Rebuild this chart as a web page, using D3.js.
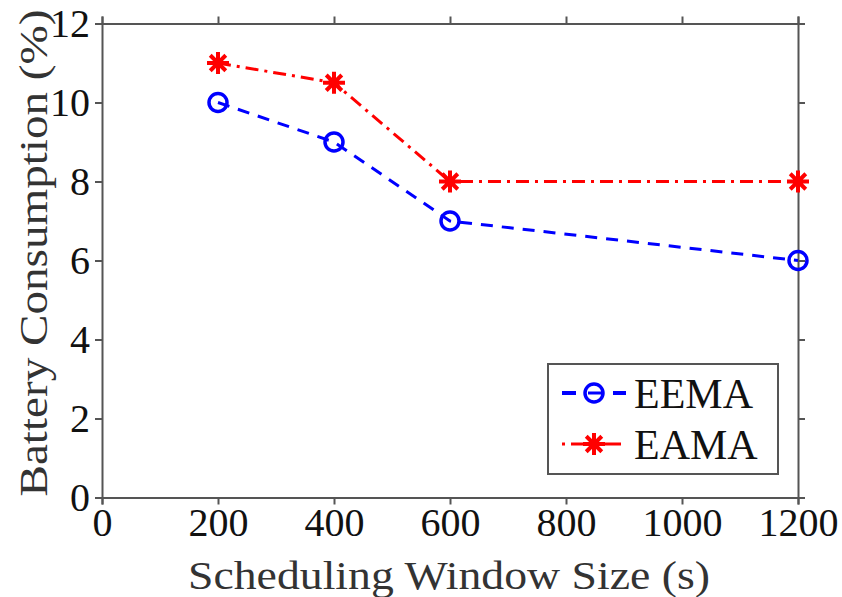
<!DOCTYPE html>
<html><head><meta charset="utf-8">
<script src="https://cdn.jsdelivr.net/npm/d3@7"></script>
<style>body{margin:0;background:#fff}svg{display:block}</style>
</head><body>
<script>
const windowSizes = [200, 400, 600, 1200];
const eemaValues = [10, 9, 7, 6];
const eamaValues = [11, 10.5, 8, 8];
const xTicks = [0, 200, 400, 600, 800, 1000, 1200];
const yTicks = [0, 2, 4, 6, 8, 10, 12];
const seriesNames = ["EEMA", "EAMA"];

const W = 842, H = 597;
const m = {l: 102, r: 44, t: 23.5, b: 99.5};
const svg = d3.select("body").append("svg").attr("width", W).attr("height", H);
const x = d3.scaleLinear().domain([0, 1200]).range([m.l, W - m.r]);
const y = d3.scaleLinear().domain([0, 12]).range([H - m.b, m.t]);
const font = "Liberation Serif";
const axisColor = "#555";

function styleAxis(g){
  g.attr("font-family", null).attr("font-size", null);
  g.select(".domain").attr("stroke", axisColor).attr("stroke-width", 2);
  g.selectAll(".tick line").attr("stroke", axisColor).attr("stroke-width", 2);
  g.selectAll("text").style("font-family", font).style("font-size", "40px").attr("fill", "#111");
}
svg.append("g").attr("transform", `translate(0,${y(0)})`)
  .call(d3.axisBottom(x).tickValues(xTicks).tickFormat(d3.format("d")).tickSize(7).tickSizeOuter(7).tickPadding(3))
  .call(styleAxis);
svg.append("g").attr("transform", `translate(0,${y(12)})`)
  .call(d3.axisTop(x).tickValues(xTicks).tickSize(7).tickSizeOuter(7).tickFormat(""))
  .call(styleAxis);
svg.append("g").attr("transform", `translate(${x(0)},0)`)
  .call(d3.axisLeft(y).tickValues(yTicks).tickFormat(d3.format("d")).tickSize(7).tickSizeOuter(7).tickPadding(5))
  .call(styleAxis);
svg.append("g").attr("transform", `translate(${x(1200)},0)`)
  .call(d3.axisRight(y).tickValues(yTicks).tickSize(7).tickSizeOuter(7).tickFormat(""))
  .call(styleAxis);

const line = d3.line().x(d => x(d[0])).y(d => y(d[1]));
const eema = windowSizes.map((s, i) => [s, eemaValues[i]]);
const eama = windowSizes.map((s, i) => [s, eamaValues[i]]);
const blue = "#0000ff", red = "#ff0000";
const dashBlue = "12,9", dashRed = "13,6,3,6";

svg.append("path").datum(eama).attr("d", line).attr("fill", "none")
  .attr("stroke", red).attr("stroke-width", 3).attr("stroke-dasharray", dashRed);
svg.append("path").datum(eema).attr("d", line).attr("fill", "none")
  .attr("stroke", blue).attr("stroke-width", 3).attr("stroke-dasharray", dashBlue);

function star(g, cx, cy){
  const r = 11;
  const p = d3.path();
  for (let k = 0; k < 4; k++){
    const a = k * Math.PI / 4;
    p.moveTo(cx - r*Math.cos(a), cy - r*Math.sin(a));
    p.lineTo(cx + r*Math.cos(a), cy + r*Math.sin(a));
  }
  g.append("path").attr("d", p.toString()).attr("stroke", red).attr("stroke-width", 4).attr("fill", "none");
  g.append("circle").attr("cx", cx).attr("cy", cy).attr("r", 5).attr("fill", red);
}
eama.forEach(d => star(svg, x(d[0]), y(d[1])));
svg.selectAll("circle.eema").data(eema).join("circle").attr("class", "eema")
  .attr("cx", d => x(d[0])).attr("cy", d => y(d[1])).attr("r", 9)
  .attr("fill", "none").attr("stroke", blue).attr("stroke-width", 3.5);

// legend
const lg = svg.append("g");
lg.append("rect").attr("x", 548).attr("y", 364).attr("width", 230).attr("height", 110)
  .attr("fill", "#fff").attr("stroke", axisColor).attr("stroke-width", 2);
const rows = [{y: 393}, {y: 444}];
rows.forEach((r, i) => {
  if (i === 0){
    lg.append("line").attr("x1", 562).attr("x2", 576).attr("y1", r.y).attr("y2", r.y).attr("stroke", blue).attr("stroke-width", 4);
    lg.append("line").attr("x1", 588).attr("x2", 602).attr("y1", r.y).attr("y2", r.y).attr("stroke", blue).attr("stroke-width", 3);
    lg.append("line").attr("x1", 613).attr("x2", 626).attr("y1", r.y).attr("y2", r.y).attr("stroke", blue).attr("stroke-width", 4);
    lg.append("circle").attr("cx", 594).attr("cy", r.y).attr("r", 9).attr("fill", "none").attr("stroke", blue).attr("stroke-width", 3.5);
  } else {
    lg.append("line").attr("x1", 562).attr("x2", 626).attr("y1", r.y).attr("y2", r.y).attr("stroke", red).attr("stroke-width", 3).attr("stroke-dasharray", "3,6,20,10,20,6");
    star(lg, 594, r.y);
  }
  lg.append("text").attr("x", 634).attr("y", r.y).attr("dy", "0.35em")
    .style("font-family", font).style("font-size", "42px").attr("fill", "#111").text(seriesNames[i]);
});

// axis titles
svg.append("text").attr("x", x(600) - 1).attr("y", 589).attr("text-anchor", "middle")
  .style("font-family", font).style("font-size", "41px").attr("fill", "#333")
  .attr("textLength", 522).attr("lengthAdjust", "spacingAndGlyphs")
  .text("Scheduling Window Size (s)");
svg.append("text").attr("transform", "translate(47,253) rotate(-90)").attr("text-anchor", "middle")
  .style("font-family", font).style("font-size", "41px").attr("fill", "#333")
  .attr("textLength", 487).attr("lengthAdjust", "spacingAndGlyphs")
  .text("Battery Consumption (%)");
</script>
</body></html>
